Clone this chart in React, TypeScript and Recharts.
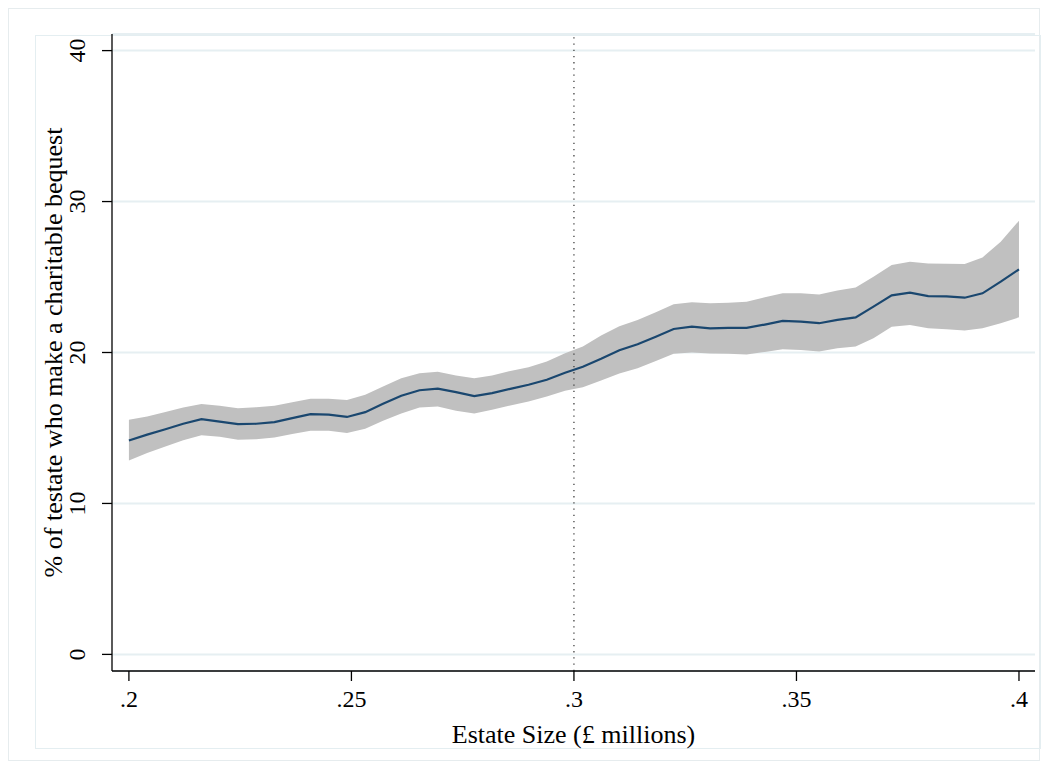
import React from "react";
import {
  ComposedChart,
  Area,
  Line,
  XAxis,
  YAxis,
  CartesianGrid,
  ReferenceLine,
  Label,
} from "recharts";

// Estate size (£ millions) at each estimation point
const estateSize = [
  0.2, 0.2041, 0.2082, 0.2122, 0.2163, 0.2204, 0.2245, 0.2286, 0.2327, 0.2367,
  0.2408, 0.2449, 0.249, 0.2531, 0.2571, 0.2612, 0.2653, 0.2694, 0.2735, 0.2776,
  0.2816, 0.2857, 0.2898, 0.2939, 0.298, 0.302, 0.3061, 0.3102, 0.3143, 0.3184,
  0.3224, 0.3265, 0.3306, 0.3347, 0.3388, 0.3429, 0.3469, 0.351, 0.3551, 0.3592,
  0.3633, 0.3673, 0.3714, 0.3755, 0.3796, 0.3837, 0.3878, 0.3918, 0.3959, 0.4,
];

// % of testate who make a charitable bequest (point estimate)
const estimate = [
  14.17, 14.56, 14.92, 15.28, 15.59, 15.42, 15.26, 15.28, 15.39, 15.65,
  15.92, 15.89, 15.73, 16.05, 16.6, 17.13, 17.5, 17.61, 17.37, 17.11,
  17.31, 17.59, 17.86, 18.19, 18.66, 19.05, 19.58, 20.15, 20.55, 21.05,
  21.56, 21.71, 21.6, 21.63, 21.63, 21.85, 22.09, 22.05, 21.94, 22.16,
  22.33, 23.04, 23.79, 23.96, 23.74, 23.72, 23.63, 23.92, 24.69, 25.51,
];

// Upper confidence bound
const upperCI = [
  15.54, 15.76, 16.05, 16.36, 16.58, 16.47, 16.31, 16.38, 16.47, 16.71,
  16.93, 16.93, 16.86, 17.2, 17.75, 18.3, 18.63, 18.72, 18.47, 18.3,
  18.47, 18.78, 19.03, 19.4, 19.95, 20.4, 21.12, 21.74, 22.16, 22.66,
  23.19, 23.33, 23.26, 23.3, 23.37, 23.66, 23.92, 23.92, 23.85, 24.1,
  24.3, 25.02, 25.79, 26.01, 25.9, 25.88, 25.86, 26.3, 27.34, 28.73,
];

// Lower confidence bound
const lowerCI = [
  12.85, 13.34, 13.78, 14.18, 14.51, 14.42, 14.22, 14.26, 14.37, 14.6,
  14.81, 14.81, 14.66, 14.95, 15.48, 15.96, 16.36, 16.42, 16.14, 15.96,
  16.2, 16.49, 16.75, 17.08, 17.47, 17.7, 18.14, 18.61, 18.96, 19.44,
  19.91, 20.0, 19.93, 19.91, 19.86, 20.04, 20.22, 20.17, 20.06, 20.28,
  20.39, 20.95, 21.71, 21.83, 21.61, 21.54, 21.45, 21.61, 21.94, 22.33,
];

const xTicks = [0.2, 0.25, 0.3, 0.35, 0.4];
const xTickLabels = [".2", ".25", ".3", ".35", ".4"];
const yTicks = [0, 10, 20, 30, 40];
const cutoff = 0.3;

const xTitle = "Estate Size (£ millions)";
const yTitle = "% of testate who make a charitable bequest";

const data = estateSize.map((x, i) => ({
  x,
  est: estimate[i],
  ci: [lowerCI[i], upperCI[i]],
}));

const FONT = "'Liberation Serif', 'Times New Roman', serif";

const YTick = (props: any) => {
  const { x, y, payload } = props;
  const bx = x - 17;
  return (
    <text
      x={bx}
      y={y}
      transform={`rotate(-90, ${bx}, ${y})`}
      textAnchor="middle"
      fontSize={24}
      fontFamily={FONT}
      fill="#000"
    >
      {payload.value}
    </text>
  );
};

const XTitle = (props: any) => {
  const vb = props.viewBox || { x: 112, y: 671, width: 923, height: 80 };
  return (
    <text
      x={vb.x + vb.width / 2}
      y={vb.y + 72}
      textAnchor="middle"
      fontSize={26}
      fontFamily={FONT}
      fill="#000"
    >
      {xTitle}
    </text>
  );
};

const YTitle = (props: any) => {
  const vb = props.viewBox || { x: 8, y: 34, width: 104, height: 637 };
  const bx = vb.x + 54;
  const cy = vb.y + vb.height / 2;
  return (
    <text
      x={bx}
      y={cy}
      transform={`rotate(-90, ${bx}, ${cy})`}
      textAnchor="middle"
      fontSize={26}
      fontFamily={FONT}
      fill="#000"
    >
      {yTitle}
    </text>
  );
};

export default function App() {
  return (
    <div
      style={{
        position: "absolute",
        left: 0,
        top: 0,
        width: 1049,
        height: 771,
        background: "#fff",
      }}
    >
      <div
        style={{
          position: "absolute",
          left: 8,
          top: 8,
          width: 1032,
          height: 753,
          border: "1px solid #e6ecee",
          boxSizing: "border-box",
        }}
      />
      <div
        style={{
          position: "absolute",
          left: 35,
          top: 35,
          width: 1006,
          height: 714,
          border: "1px solid #e4eef1",
          boxSizing: "border-box",
        }}
      />
      <div style={{ position: "absolute", left: 0, top: 0 }}>
        <ComposedChart
          width={1049}
          height={771}
          data={data}
          margin={{ top: 34, right: 14, bottom: 20, left: 8 }}
        >
          <CartesianGrid
            horizontal={true}
            vertical={false}
            stroke="#e6eff2"
            strokeWidth={2}
          />
          <XAxis
            type="number"
            dataKey="x"
            domain={[0.1962, 0.4036]}
            allowDataOverflow
            ticks={xTicks}
            tickFormatter={(v: number) => {
              const idx = xTicks.findIndex((t) => Math.abs(t - v) < 1e-9);
              return idx >= 0 ? xTickLabels[idx] : String(v);
            }}
            height={80}
            tickSize={10}
            tickMargin={9}
            axisLine={{ stroke: "#000", strokeWidth: 1.3 }}
            tickLine={{ stroke: "#000", strokeWidth: 1.3 }}
            tick={{ fill: "#000", fontSize: 24, fontFamily: FONT }}
          >
            <Label content={XTitle} />
          </XAxis>
          <YAxis
            type="number"
            domain={[-1.1, 41.1]}
            allowDataOverflow
            ticks={yTicks}
            width={104}
            tickSize={10}
            tickMargin={0}
            axisLine={{ stroke: "#000", strokeWidth: 1.3 }}
            tickLine={{ stroke: "#000", strokeWidth: 1.3 }}
            tick={YTick}
          >
            <Label content={YTitle} />
          </YAxis>
          <ReferenceLine
            x={cutoff}
            stroke="#333"
            strokeWidth={1.2}
            strokeDasharray="1.3 4.9"
          />
          <Area
            type="linear"
            dataKey="ci"
            stroke="none"
            fill="#c0c0c0"
            fillOpacity={1}
            dot={false}
            activeDot={false}
            isAnimationActive={false}
          />
          <Line
            type="linear"
            dataKey="est"
            stroke="#1a476f"
            strokeWidth={2.2}
            dot={false}
            activeDot={false}
            isAnimationActive={false}
          />
        </ComposedChart>
      </div>
    </div>
  );
}
